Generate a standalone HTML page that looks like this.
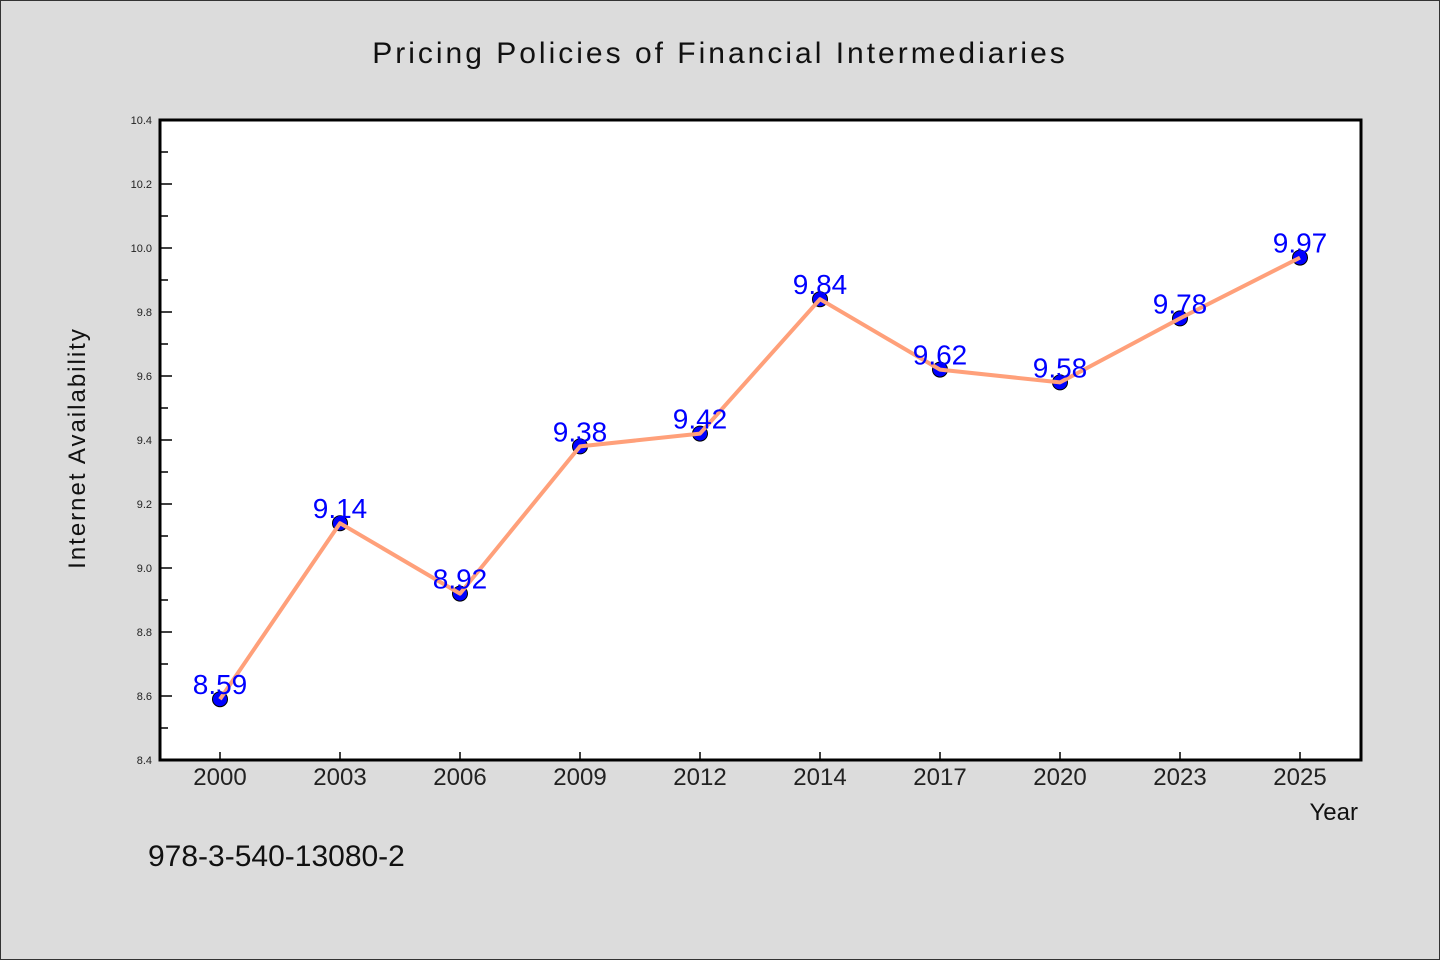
<!DOCTYPE html>
<html><head><meta charset="utf-8"><style>
html,body{margin:0;padding:0;background:#dcdcdc;}
svg{display:block;}
text{font-family:"WenQuanYi Zen Hei","Liberation Sans",sans-serif;}
</style></head><body>
<svg id="chart" width="1440" height="960" xmlns="http://www.w3.org/2000/svg">
<rect x="0.5" y="0.5" width="1439" height="959" fill="#dcdcdc" stroke="#333"/>
<text x="720" y="63" text-anchor="middle" font-size="30" letter-spacing="3" fill="#111">Pricing Policies of Financial Intermediaries</text>
<rect x="160" y="120" width="1201" height="640" fill="#fff"/>
<g id="axes"></g>
<g id="marks"></g>
<rect x="160" y="120" width="1201" height="640" fill="none" stroke="#000" stroke-width="3"/>
<text transform="translate(85,448) rotate(-90)" text-anchor="middle" font-size="24" letter-spacing="2" fill="#111">Internet Availability</text>
<text x="1358" y="820" text-anchor="end" font-size="24" fill="#111">Year</text>
<text x="148" y="866" font-size="30" fill="#111">978-3-540-13080-2</text>
</svg>
<script>
const categories = ["2000","2003","2006","2009","2012","2014","2017","2020","2023","2025"];
const values = [8.59, 9.14, 8.92, 9.38, 9.42, 9.84, 9.62, 9.58, 9.78, 9.97];
const yTicks = ["8.4","8.6","8.8","9.0","9.2","9.4","9.6","9.8","10.0","10.2","10.4"];
const yMin = 8.4, yMax = 10.4;
const L=160, R=1361, T=120, B=760;
const NS="http://www.w3.org/2000/svg";
function yS(v){return B-(v-yMin)/(yMax-yMin)*(B-T);}
function xS(i){const bw=(1200)/categories.length;return L+bw/2+i*bw;}
function mk(tag,attrs,parent){const e=document.createElementNS(NS,tag);for(const k in attrs)e.setAttribute(k,attrs[k]);parent.appendChild(e);return e;}
const axes=document.getElementById('axes'), marks=document.getElementById('marks');
yTicks.forEach((t,i)=>{
  const v=parseFloat(t), y=yS(v);
  const tk=mk('line',{x1:L,x2:L+12,y1:y,y2:y,stroke:'#000','stroke-width':1.5},axes);
  
  
  const lb=mk('text',{x:152,y:y+4,'text-anchor':'end','font-size':11,fill:'#222'},axes);
  lb.textContent=t;
  
  
  if(i<yTicks.length-1){
    const ym=yS(v+0.1);
    const mt=mk('line',{x1:L,x2:L+8,y1:ym,y2:ym,stroke:'#000','stroke-width':1.5},axes);
    
    
  }
});
categories.forEach((c,i)=>{
  const x=xS(i);
  const tk=mk('line',{x1:x,x2:x,y1:B,y2:B-8,stroke:'#000','stroke-width':1.5},axes);
  
  
  const lb=mk('text',{x:x,y:785,'text-anchor':'middle','font-size':24,fill:'#222'},axes);
  lb.textContent=c;
  
  
});
values.forEach((v,i)=>{
  const d=mk('circle',{cx:xS(i),cy:yS(v),r:7.5,fill:'#0000ff',stroke:'#000','stroke-width':1},marks);
  
  
});
const pts=values.map((v,i)=>xS(i)+','+yS(v)).join(' ');
const pl=mk('polyline',{points:pts,fill:'none',stroke:'#ffa07a','stroke-width':4,'stroke-linejoin':'round'},marks);


values.forEach((v,i)=>{
  const t=mk('text',{x:xS(i),y:yS(v)-5,'text-anchor':'middle','font-size':28,fill:'#0000ff'},marks);
  t.textContent=v.toFixed(2);
  
  
});
</script>
</body></html>
